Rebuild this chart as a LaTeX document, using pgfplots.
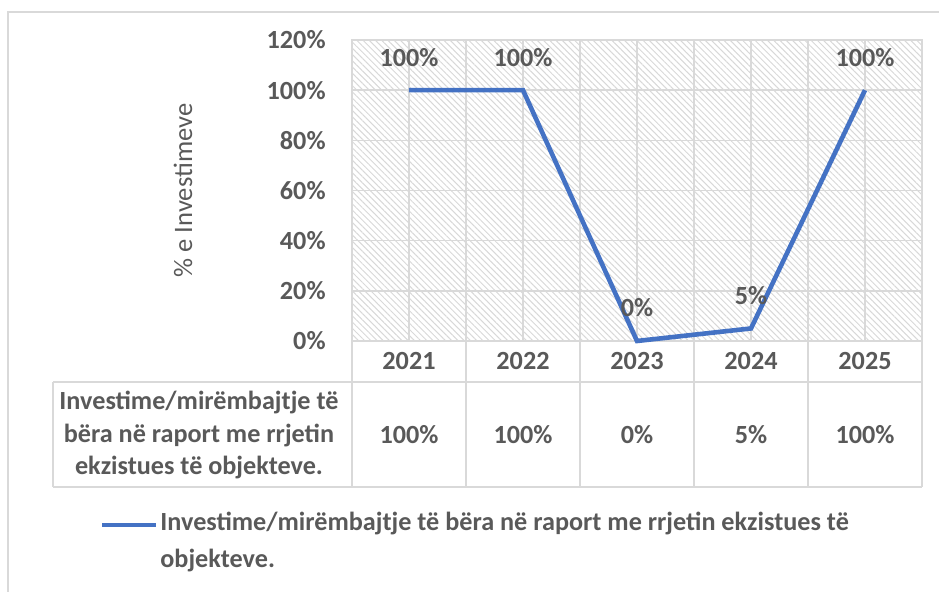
\documentclass[border=0pt]{standalone}
\usepackage{fontspec}
\setmainfont{Carlito}
\usepackage{pgfplots}
\pgfplotsset{compat=1.18}
\usetikzlibrary{patterns.meta}
\definecolor{txt}{HTML}{595959}
\definecolor{grd}{HTML}{D9D9D9}
\definecolor{hatch}{HTML}{D8D8D8}
\definecolor{serie}{HTML}{4472C4}
\newcommand\lbl{\fontsize{13.1}{16}\selectfont\bfseries}

\begin{document}
\begin{tikzpicture}
\useasboundingbox (0,0) rectangle (469.5pt,-296pt);
\begin{axis}[
  at={(176pt,-170.5pt)}, anchor=south west,
  scale only axis, width=285pt, height=150.5pt,
  xmin=-0.5, xmax=4.5, ymin=0, ymax=120,
  xtick={0,...,4}, xticklabels={2021,2022,2023,2024,2025},
  minor xtick={-0.5,0.5,...,4.5},
  ytick={0,20,...,120},
  yticklabel={\pgfmathprintnumber{\tick}\%},
  /pgf/number format/assume math mode=true,
  grid=both,
  major grid style={grd, line width=0.75pt},
  minor grid style={grd, line width=0.75pt},
  axis line style={grd, line width=0.75pt},
  major tick length=0pt, minor tick length=0pt,
  tick label style={font=\lbl, text=txt},
  xticklabel style={anchor=center, yshift=-10pt},
  yticklabel style={anchor=east, inner sep=0pt, xshift=-13pt},
  ylabel={\% e Investimeve},
  ylabel style={at={(axis description cs:-0.2965,0.5)}, anchor=center,
    font=\fontsize{13.3}{16}\selectfont, text=txt},
  axis background/.style={pattern={Lines[angle=-45,distance=2.2pt,line width=0.5pt]},
    pattern color=hatch},
  clip=false,
]
% line series with labels above the points
\addplot[serie, line width=2.3pt,
  nodes near coords={\pgfmathprintnumber{\pgfplotspointmeta}\%},
  every node near coord/.append style={font=\lbl, text=txt, anchor=center, yshift=16.5pt}]
  coordinates {(0,100) (1,100) (2,0) (3,5) (4,100)};
% data table row under the years
\addplot[draw=none,
  nodes near coords={\pgfmathprintnumber{\pgfplotspointmeta}\%},
  point meta=explicit,
  every node near coord/.append style={font=\lbl, text=txt, anchor=center}]
  coordinates {(0,-37.5) [100] (1,-37.5) [100] (2,-37.5) [0] (3,-37.5) [5] (4,-37.5) [100]};
\end{axis}

\begin{scope}[x=0.5pt, y=-0.5pt]
  % outer chart border
  \draw[grd, line width=1pt] (8,592) -- (8,12) -- (939,12);
  % data table grid
  \begin{scope}[grd, line width=0.75pt]
    \draw (53,382) -- (922,382);
    \draw (53,487) -- (922,487);
    \draw (53,382) -- (53,487);
    \foreach \xx in {352,466,580,694,808,922} \draw (\xx,341) -- (\xx,487);
  \end{scope}
  \begin{scope}[every node/.style={font=\lbl, text=txt, inner sep=0pt}]
    \node[anchor=base] at (199,410) {Investime/mirëmbajtje të};
    \node[anchor=base] at (199,443) {bëra në raport me rrjetin};
    \node[anchor=base] at (199,475) {ekzistues të objekteve.};
    % legend
    \draw[serie, line width=2.3pt] (102,525) -- (156,525);
    \node[anchor=base west] at (160,531) {Investime/mirëmbajtje të bëra në raport me rrjetin ekzistues të};
    \node[anchor=base west] at (160,568) {objekteve.};
  \end{scope}
\end{scope}
\end{tikzpicture}
\end{document}
